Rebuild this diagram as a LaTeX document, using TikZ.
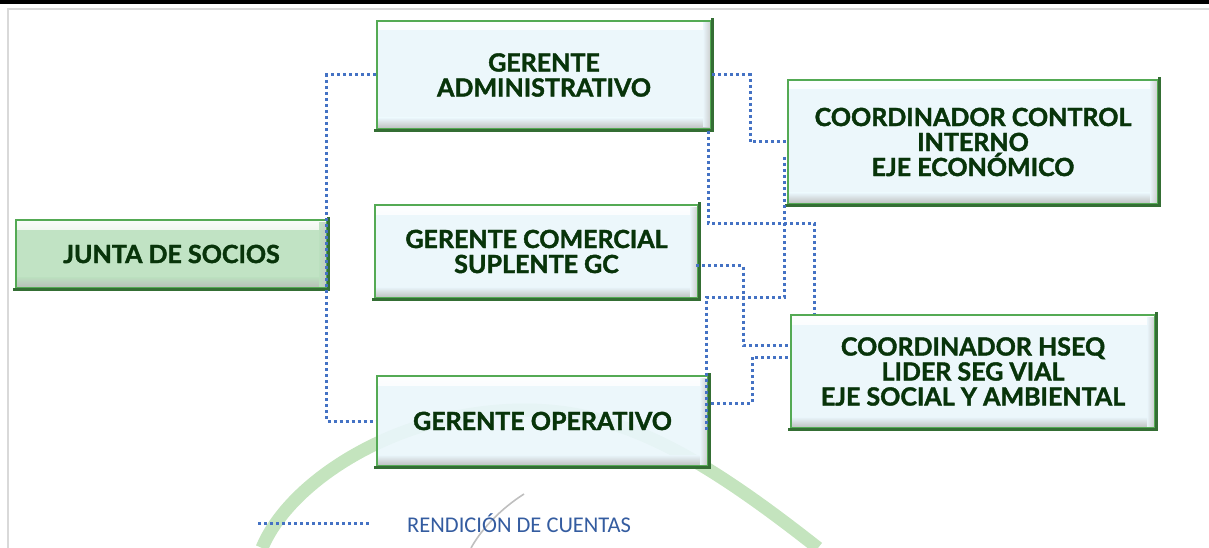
\documentclass[tikz,border=0pt]{standalone}
\usepackage{fontspec}
\setmainfont{Lato}[BoldFeatures={FakeBold=1.6}]
\newfontfamily\legendfont{Carlito}
\usetikzlibrary{calc}

\definecolor{boxblue}{RGB}{234,246,251}
\definecolor{juntagreen}{RGB}{186,224,190}
\definecolor{boxgreen}{RGB}{84,170,84}
\definecolor{boxdark}{RGB}{52,110,52}
\definecolor{txtgreen}{RGB}{8,52,10}
\definecolor{rendblue}{RGB}{68,114,196}
\definecolor{legblue}{RGB}{52,92,160}
\definecolor{arcgreen}{RGB}{196,228,190}
\definecolor{framegray}{RGB}{217,217,217}

\tikzset{
  bevel/.style={path picture={
    \shade[top color=white, bottom color=#1]
      (path picture bounding box.north west) rectangle ([yshift=-9pt]path picture bounding box.north east);
    \shade[top color=#1, bottom color=black!28]
      ([yshift=11pt]path picture bounding box.south west) rectangle (path picture bounding box.south east);
    \shade[left color=#1, right color=black!22]
      ([xshift=-8pt,yshift=-2pt]path picture bounding box.north east) rectangle ([yshift=2pt]path picture bounding box.south east);
  }},
  box/.style={draw=boxgreen, line width=2.6pt, fill=#1, fill opacity=.9, text opacity=1,
    text=txtgreen, align=center, inner sep=0pt,
    font=\bfseries\fontsize{25}{25}\selectfont, bevel=#1},
  box/.default=boxblue,
  boxedge/.style={draw=boxdark, line width=2.6pt, line cap=rect},
  rend/.style={draw=rendblue, line width=3pt, dash pattern=on 3pt off 3pt}
}

\begin{document}
\begin{tikzpicture}[x=1pt,y=-1pt]
  \useasboundingbox (0,0) rectangle (1209,548);
  % frame
  \fill[black] (0,0) rectangle (1209,4);
  \draw[framegray, line width=2pt] (8,548) -- (8,9) -- (1209,9);
  % background arc
  \draw[arcgreen, line width=13pt] (262,548) .. controls (290,480) and (400,410) .. (525,410)
    .. controls (620,410) and (700,455) .. (818,548);
  \draw[black!25, line width=1.6pt] (524,494) .. controls (502,508) and (482,528) .. (471,548);

  % boxes
  \node[box=juntagreen, minimum width=311pt, minimum height=68pt] (junta) at (171.5,254) {JUNTA DE SOCIOS};
  \node[box, minimum width=334pt, minimum height=108pt] (adm) at (544,75) {GERENTE\\ADMINISTRATIVO};
  \node[box, minimum width=323pt, minimum height=93pt] (com) at (536.5,251.5) {GERENTE COMERCIAL\\SUPLENTE GC};
  \node[box, minimum width=331pt, minimum height=90pt] (ope) at (542.5,421) {GERENTE OPERATIVO};
  \node[box, minimum width=370pt, minimum height=124pt] (cci) at (973,142) {COORDINADOR CONTROL\\INTERNO\\EJE ECONÓMICO};
  \node[box, minimum width=364pt, minimum height=113pt] (hseq) at (973,371.5) {COORDINADOR HSEQ\\LIDER SEG VIAL\\EJE SOCIAL Y AMBIENTAL};
  \foreach \n in {junta,adm,com,ope,cci,hseq}
    \draw[boxedge] (\n.north east) -- (\n.south east) -- (\n.south west);

  % rendicion de cuentas
  \draw[rend] (adm.west) -- ++(-49,0) |- (ope.west);
  \draw[rend] (adm.east) -- ++(38,0) |- (cci.west);
  \draw[rend] ($(adm.south east)+(-4,1)$) -- ++(0,92) -| ($(hseq.north west)+(25,0)$);
  \draw[rend] ($(cci.west)+(-2,15)$) -- ++(0,140) -| ($(ope.north east)+(-3,57)$);
  \draw[rend] ($(com.east)+(-3,14)$) -- ++(47,0) |- ($(hseq.west)+(0,-26.5)$);
  \draw[rend] ($(ope.east)+(2,-18)$) -- ++(41,0) |- ($(hseq.west)+(0,-14.5)$);

  % legend
  \coordinate (leg1) at (258,523);
  \coordinate (leg2) at (370,523);
  \draw[rend] (leg1) -- (leg2);
  \node[anchor=west, text=legblue, font=\legendfont\fontsize{22.5}{24}\selectfont, inner sep=0pt] (legtxt) at (407,523) {RENDICIÓN DE CUENTAS};
\end{tikzpicture}
\end{document}
